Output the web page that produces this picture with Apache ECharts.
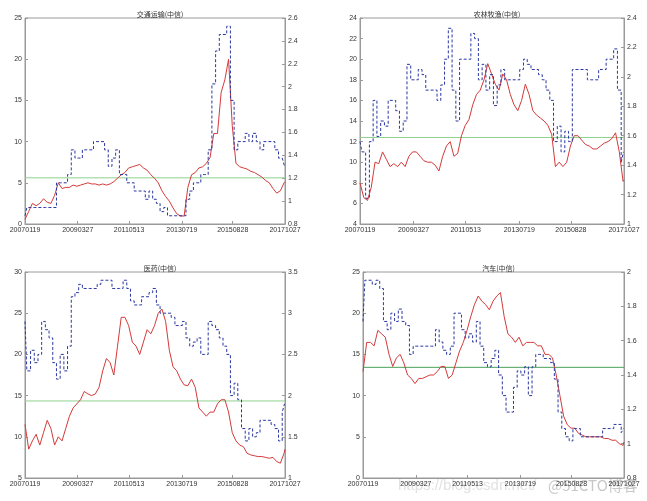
<!DOCTYPE html>
<html>
<head>
<meta charset="utf-8">
<script src="https://cdn.jsdelivr.net/npm/echarts@6/dist/echarts.min.js"></script>
<style>html,body{margin:0;padding:0;background:#fff}#c{width:647px;height:501px}</style>
</head>
<body>
<div id="c"></div>
<script>
// ---- data ----
const titles = ['交通运输(中信)', '农林牧渔(中信)', '医药(中信)', '汽车(中信)'];
const xTickWeeks = [0, 114, 225, 339, 449, 562];
const xTickLabels = ['20070119', '20090327', '20110513', '20130719', '20150828', '20171027'];
const weeks = [0,8,16,24,32,40,48,56,64,72,80,88,96,104,112,120,128,136,144,152,160,168,176,184,192,200,208,216,224,232,240,248,256,264,272,280,288,296,304,312,320,328,336,344,352,360,368,376,384,392,400,408,416,424,432,440,448,456,464,472,480,488,496,504,512,520,528,536,544,552,560,562];

const blue1 = [1,2,2,2,2,2,2,2,2, 5,5,5,6,9,8,8,9,9,9,10,10,10,9,7,8,9, 6,6,5,5,4,4,4,3,4,3,2.5,1.5,2,1,1,1,1,1, 3,4,5,5,6,6,9,17,21,23,23,24,15,9, 10,10,11,10,11,10,9,10,10,10,9,8,8,7];
const red1 = [0.84,0.91,0.98,0.96,0.98,1.02,0.99,0.98,1.05, 1.16,1.11,1.12,1.12,1.14,1.13,1.14,1.15,1.16,1.15,1.15,1.14,1.15,1.14,1.15,1.17,1.20, 1.23,1.25,1.29,1.30,1.31,1.32,1.29,1.27,1.23,1.20,1.16,1.09,1.04,1.00,0.94,0.89,0.87,0.87, 1.12,1.23,1.25,1.29,1.30,1.33,1.38,1.59,1.59,1.95,2.06,2.24,1.66,1.33, 1.30,1.29,1.28,1.26,1.25,1.23,1.21,1.18,1.16,1.11,1.07,1.09,1.16,1.17];

const blue2 = [12,11,6.5,12,16,12.5,14,13.5,16, 16,15,13,14,19.5,18,18,19,18.5,17,17,17,16,17.5,20,23,17, 14,20,20,20,22.5,22,18,19.5,17,18.5,15.5,17.5,19,18,18,18,18,19, 20,19.5,19,19,18.5,18,17,16,12,13.5,11,13,12,19, 19,19,19,18,18,18,19,19,20,20,21,17,10,11];
const red2 = [1.28,1.18,1.16,1.25,1.42,1.41,1.49,1.44,1.39, 1.41,1.39,1.42,1.39,1.46,1.49,1.49,1.46,1.43,1.42,1.42,1.40,1.36,1.46,1.53,1.56,1.46, 1.48,1.60,1.67,1.71,1.81,1.88,1.91,1.98,2.09,2.02,1.95,1.91,2.02,1.98,1.88,1.81,1.77,1.84, 1.95,1.88,1.77,1.74,1.72,1.70,1.67,1.61,1.39,1.42,1.39,1.42,1.53,1.60, 1.60,1.57,1.54,1.53,1.51,1.51,1.53,1.55,1.56,1.58,1.62,1.49,1.29,1.30];

const blue3 = [24,18,20.5,19,20,24,23,22,19, 17,20,18,21,27,27.5,28.5,28,28,28,28,28.5,29,29,29,28,28, 28,29,28,26.5,26,26,27,27,27.5,28,26,25,25,25,24.5,23.5,23.5,24, 22,21,21.5,22,20,20,24,23.5,23,22,21,20,15,16.5, 14.5,11,9.5,11,10,10.5,12,12,12,11.5,11,9.5,13,14];
const red3 = [1.65,1.35,1.45,1.53,1.40,1.55,1.70,1.60,1.40, 1.50,1.45,1.60,1.75,1.85,1.90,1.95,2.05,2.02,2.00,2.02,2.10,2.30,2.45,2.40,2.25,2.60, 2.95,2.95,2.85,2.65,2.60,2.50,2.65,2.80,2.75,2.85,3.00,3.05,2.90,2.55,2.35,2.30,2.20,2.13, 2.12,2.20,2.10,1.85,1.80,1.75,1.80,1.80,1.90,1.95,1.95,1.80,1.55,1.45, 1.40,1.38,1.30,1.28,1.27,1.26,1.26,1.25,1.24,1.25,1.20,1.18,1.30,1.35];

const blue4 = [19,24,24,23.5,24,23,19,18,20, 19,20.5,19,18.5,15,16,16,16,16,16,16,18,16.5,15.5,15,16,20, 20,18,17,17.5,16.5,19,16,14,13.5,14.5,15.5,12.5,10,8,8,11,13,12.5, 13.5,10,13.5,15,15,14.5,14.5,14,12,8,6,5,4.5,6, 6,5,5,5,5,5,5,6,6,6,6.5,6.5,5.5,6];
const red4 = [1.42,1.59,1.59,1.57,1.66,1.64,1.62,1.52,1.45, 1.50,1.52,1.47,1.40,1.38,1.35,1.38,1.38,1.39,1.40,1.40,1.42,1.45,1.45,1.38,1.40,1.47, 1.54,1.59,1.66,1.74,1.81,1.86,1.83,1.81,1.78,1.83,1.86,1.88,1.74,1.64,1.62,1.59,1.62,1.57, 1.59,1.59,1.59,1.57,1.57,1.52,1.52,1.50,1.40,1.28,1.16,1.11,1.09,1.09, 1.06,1.05,1.04,1.04,1.04,1.04,1.04,1.03,1.03,1.02,1.02,1.00,0.99,1.01];

const meanLevels = [5.6, 12.4, 14.35, 13.43];
const leftRanges = [[0,25,5],[4,24,2],[5,30,5],[0,25,5]];
const rightRanges = [[0.8,2.6,0.2],[1,2.4,0.2],[1,3.5,0.5],[0.8,2,0.2]];
const blues = [blue1, blue2, blue3, blue4];
const reds = [red1, red2, red3, red4];

// ---- layout ----
const grids = [
  {left: 25, top: 18, width: 260, height: 206},
  {left: 360, top: 18, width: 264, height: 206},
  {left: 25, top: 272, width: 260, height: 206},
  {left: 363, top: 272, width: 261, height: 206}
];
const axisColor = '#9a9a9a';
const txt = '#333';
const font = 'Liberation Sans, Arial, sans-serif';

const option = {
  backgroundColor: '#fff',
  animation: false,
  title: [], grid: [], xAxis: [], yAxis: [], series: [],
  graphic: [
    {type: 'text', left: 398, top: 478, style: {text: 'https://blog.csdn.net/', fill: '#e2e2e2', font: '15px Liberation Sans'}},
    {type: 'text', left: 548, top: 478, style: {text: '@51CTO博客', fill: '#c8c8c8', font: '15px Noto Sans CJK SC'}}
  ]
};

grids.forEach((g, i) => {
  option.grid.push(Object.assign({show: true, borderColor: axisColor, borderWidth: 1, backgroundColor: 'transparent'}, g));
  option.title.push({
    text: titles[i], left: g.left + g.width / 2, top: g.top - 12, textAlign: 'center',
    textStyle: {fontSize: 7, fontWeight: 'normal', color: txt, fontFamily: 'Noto Sans CJK SC'}
  });
  option.xAxis.push({
    type: 'value', gridIndex: i, min: 0, max: 562,
    axisLine: {show: true, lineStyle: {color: axisColor}},
    axisTick: {show: true, inside: true, length: 3, customValues: xTickWeeks, lineStyle: {color: axisColor}},
    axisLabel: {customValues: xTickWeeks, fontSize: 7, color: txt, margin: 3, fontFamily: font, hideOverlap: false,
      formatter: v => { const k = xTickWeeks.indexOf(Math.round(v)); return k >= 0 ? xTickLabels[k] : ''; }},
    splitLine: {show: false}
  });
  const L = leftRanges[i], R = rightRanges[i];
  option.yAxis.push({
    type: 'value', gridIndex: i, position: 'left', min: L[0], max: L[1], interval: L[2],
    axisLine: {show: true, lineStyle: {color: axisColor}},
    axisTick: {show: true, inside: true, length: 3, lineStyle: {color: axisColor}},
    axisLabel: {fontSize: 7, color: txt, margin: 3, fontFamily: font},
    splitLine: {show: false}
  });
  option.yAxis.push({
    type: 'value', gridIndex: i, position: 'right', min: R[0], max: R[1], interval: R[2],
    axisLine: {show: true, lineStyle: {color: axisColor}},
    axisTick: {show: true, inside: true, length: 3, lineStyle: {color: axisColor}},
    axisLabel: {fontSize: 7, color: txt, margin: 3, fontFamily: font},
    splitLine: {show: false}
  });
  option.series.push({
    type: 'line', xAxisIndex: i, yAxisIndex: 2 * i, symbol: 'none', step: 'middle',
    data: weeks.map((w, k) => [w, blues[i][k]]),
    lineStyle: {color: '#2a37a0', width: 1, type: [3, 2]}, z: 3
  });
  option.series.push({
    type: 'line', xAxisIndex: i, yAxisIndex: 2 * i + 1, symbol: 'none',
    data: weeks.map((w, k) => [w, reds[i][k]]),
    lineStyle: {color: '#d43a3a', width: 1}, z: 2
  });
  option.series.push({
    type: 'line', xAxisIndex: i, yAxisIndex: 2 * i, symbol: 'none',
    data: [[0, meanLevels[i]], [562, meanLevels[i]]],
    lineStyle: {color: i === 3 ? '#4aa05a' : '#8fd08f', width: 1}, z: 1
  });
});

const chart = echarts.init(document.getElementById('c'), null, {renderer: 'canvas'});
chart.setOption(option);
</script>
</body>
</html>
